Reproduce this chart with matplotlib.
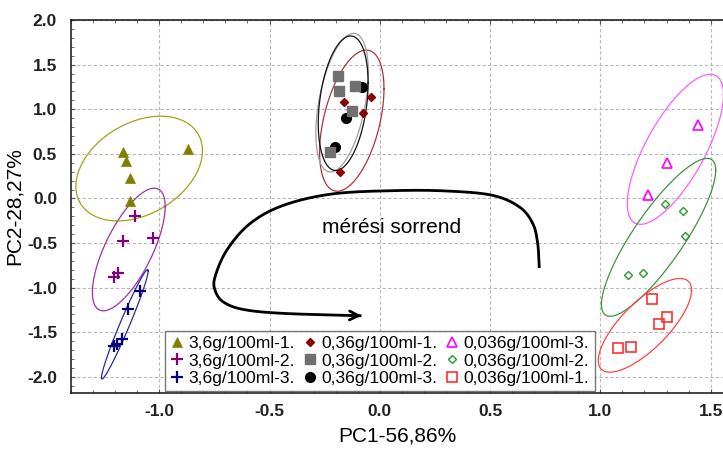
import numpy as np
import matplotlib
matplotlib.use("Agg")
import matplotlib.pyplot as plt
from matplotlib.lines import Line2D
from matplotlib.ticker import MultipleLocator, FormatStrFormatter

plt.rcParams['font.family'] = ['Liberation Sans', 'DejaVu Sans']

# PCA scores (PC1, PC2) per sample group
labels = ["3,6g/100ml-1.", "3,6g/100ml-2.", "3,6g/100ml-3.",
          "0,36g/100ml-1.", "0,36g/100ml-2.", "0,36g/100ml-3.",
          "0,036g/100ml-3.", "0,036g/100ml-2.", "0,036g/100ml-1."]

pc1_a1 = [-1.162, -1.151, -1.133, -1.132, -0.870]
pc2_a1 = [0.520, 0.416, 0.228, -0.034, 0.558]
pc1_a2 = [-1.109, -1.162, -1.026, -1.205, -1.185]
pc2_a2 = [-0.199, -0.480, -0.446, -0.884, -0.839]
pc1_a3 = [-1.087, -1.143, -1.167, -1.203, -1.191]
pc2_a3 = [-1.039, -1.244, -1.575, -1.650, -1.631]

pc1_b1 = [-0.162, -0.038, -0.077, -0.179]
pc2_b1 = [1.079, 1.135, 0.958, 0.292]
pc1_b2 = [-0.190, -0.185, -0.114, -0.124, -0.224]
pc2_b2 = [1.374, 1.206, 1.262, 0.981, 0.520]
pc1_b3 = [-0.080, -0.153, -0.201]
pc2_b3 = [1.250, 0.902, 0.573]

pc1_c3 = [1.441, 1.300, 1.215]
pc2_c3 = [0.828, 0.397, 0.034]
pc1_c2 = [1.291, 1.376, 1.382, 1.127, 1.192]
pc2_c2 = [-0.060, -0.138, -0.416, -0.862, -0.835]
pc1_c1 = [1.233, 1.300, 1.265, 1.080, 1.141]
pc2_c1 = [-1.127, -1.334, -1.412, -1.671, -1.660]

# confidence ellipses: centre x, centre y, half-extent x, half-extent y, correlation
ell_a1 = (-1.091, 0.335, 0.287, 0.587, 0.34)
ell_a2 = (-1.138, -0.572, 0.165, 0.687, 0.70)
ell_a3 = (-1.156, -1.410, 0.106, 0.613, 0.975)
ell_b1 = (-0.127, 0.872, 0.146, 0.791, 0.45)
ell_b2 = (-0.171, 1.073, 0.119, 0.777, 0.44)
ell_b3 = (-0.166, 1.067, 0.113, 0.754, 0.30)
ell_c3 = (1.340, 0.551, 0.218, 0.841, 0.726)
ell_c2 = (1.264, -0.436, 0.259, 0.885, 0.85)
ell_c1 = (1.202, -1.422, 0.2115, 0.525, 0.75)

# path of the "measurement order" arrow
order_x = [0.723, 0.716, 0.694, 0.634, 0.513, 0.317, 0.091, -0.211, -0.438, -0.589,
           -0.694, -0.747, -0.747, -0.710, -0.619, -0.438, -0.083]
order_y = [-0.779, -0.507, -0.283, -0.097, 0.034, 0.082, 0.089, 0.052, -0.078, -0.283,
           -0.581, -0.879, -1.028, -1.159, -1.244, -1.288, -1.315]

fig = plt.figure(figsize=(7.23, 4.5), dpi=100)
ax = fig.add_axes([0.0982, 0.1267, 0.9018, 0.8289])
ax.set_xlim(-1.40, 1.556)
ax.set_ylim(-2.18, 2.0)

ax.xaxis.set_major_locator(MultipleLocator(0.5))
ax.yaxis.set_major_locator(MultipleLocator(0.5))
ax.xaxis.set_minor_locator(MultipleLocator(0.1))
ax.yaxis.set_minor_locator(MultipleLocator(0.1))
ax.xaxis.set_major_formatter(FormatStrFormatter('%.1f'))
ax.yaxis.set_major_formatter(FormatStrFormatter('%.1f'))
ax.grid(True, which='major', color='#b8b8b8', linestyle=(0, (3, 2)), linewidth=0.8)
ax.set_axisbelow(True)
ax.tick_params(which='both', direction='in', top=True, right=False, color='#555555')
ax.tick_params(which='major', length=3, labelsize=12.5)
ax.tick_params(axis='x', which='major', pad=8)
ax.tick_params(axis='y', which='major', pad=10)
ax.tick_params(which='minor', length=2)
for t in ax.get_xticklabels() + ax.get_yticklabels():
    t.set_fontweight('bold')
    t.set_color('#222222')
ax.spines['right'].set_visible(False)
for s in ('left', 'top', 'bottom'):
    ax.spines[s].set_linewidth(1.2)
    ax.spines[s].set_color('#222222')

ax.set_xlabel("PC1-56,86%", fontsize=15, labelpad=5)
ax.set_ylabel("PC2-28,27%", fontsize=15)
ax.yaxis.set_label_coords(-0.072, 0.5)


def ellipse(params, color):
    cx, cy, dx, dy, rho = params
    t = np.linspace(0, 2 * np.pi, 300)
    x = cx + dx * np.cos(t)
    y = cy + dy * (rho * np.cos(t) + np.sqrt(1 - rho ** 2) * np.sin(t))
    ax.plot(x, y, color=color, lw=0.9, zorder=2)


ellipse(ell_a1, '#a3a31a')
ellipse(ell_a2, '#a030a8')
ellipse(ell_a3, '#2a2aa0')
ellipse(ell_b1, '#b03535')
ellipse(ell_b2, '#a0a0a0')
ellipse(ell_b3, '#111111')
ellipse(ell_c3, '#ff5cff')
ellipse(ell_c2, '#3c963c')
ellipse(ell_c1, '#ff4444')

styles = [
    dict(marker='^', color='#808000', ms=6.5, mfc='#808000', mec='#808000', mew=0.5),
    dict(marker='+', color='#800080', ms=8, mew=1.6),
    dict(marker='+', color='#000080', ms=8, mew=1.6),
    dict(marker='D', color='#8b0000', ms=4.5, mfc='#8b0000', mec='#8b0000'),
    dict(marker='s', color='#707070', ms=7, mfc='#707070', mec='#707070'),
    dict(marker='o', color='#000000', ms=7, mfc='#000000', mec='#000000'),
    dict(marker='^', color='#ff00ff', ms=6.5, mfc='none', mec='#ff00ff', mew=1.2),
    dict(marker='D', color='#33bb33', ms=4.5, mfc='none', mec='#2a9a2a', mew=1.0),
    dict(marker='s', color='#ff3030', ms=7, mfc='none', mec='#ff3030', mew=1.2),
]
series = [(pc1_a1, pc2_a1), (pc1_a2, pc2_a2), (pc1_a3, pc2_a3),
          (pc1_b1, pc2_b1), (pc1_b2, pc2_b2), (pc1_b3, pc2_b3),
          (pc1_c3, pc2_c3), (pc1_c2, pc2_c2), (pc1_c1, pc2_c1)]

draw_order = [0, 1, 2, 5, 4, 3, 6, 7, 8]
for i in draw_order:
    xs, ys = series[i]
    ax.plot(xs, ys, linestyle='none', zorder=3, **styles[i])

# smooth arrow through the path points (Catmull-Rom)
px = np.array(order_x)
py = np.array(order_y)
P = np.column_stack([px, py])
P = np.vstack([2 * P[0] - P[1], P, 2 * P[-1] - P[-2]])
curve = []
for k in range(1, len(P) - 2):
    p0, p1, p2, p3 = P[k - 1], P[k], P[k + 1], P[k + 2]
    for s in np.linspace(0, 1, 20, endpoint=False):
        curve.append(0.5 * ((2 * p1) + (-p0 + p2) * s +
                            (2 * p0 - 5 * p1 + 4 * p2 - p3) * s ** 2 +
                            (-p0 + 3 * p1 - 3 * p2 + p3) * s ** 3))
curve.append(P[-2])
curve = np.array(curve)
ax.plot(curve[:, 0], curve[:, 1], color='black', lw=2.0, zorder=2, solid_capstyle='butt')
ax.annotate('', xy=(curve[-1, 0], curve[-1, 1]), xytext=(curve[-4, 0], curve[-4, 1]),
            arrowprops=dict(arrowstyle='->', lw=2.0, color='black', mutation_scale=16,
                            shrinkA=0, shrinkB=0), zorder=2)
ax.text(0.055, -0.32, "mérési sorrend", fontsize=15, ha='center', va='center', zorder=2)

handles = [Line2D([], [], linestyle='none', **styles[i]) for i in range(9)]
leg = ax.legend(handles, labels, ncol=3, loc='lower left', bbox_to_anchor=(0.144, 0.005),
                borderaxespad=0, fontsize=12.6, frameon=True, fancybox=False,
                handlelength=0.8, handletextpad=0.25, columnspacing=0.45,
                labelspacing=0.12, borderpad=0.3)
leg.get_frame().set_edgecolor('#555555')
leg.get_frame().set_linewidth(1.0)
leg.set_zorder(5)

fig.savefig("out.png", dpi=100)
